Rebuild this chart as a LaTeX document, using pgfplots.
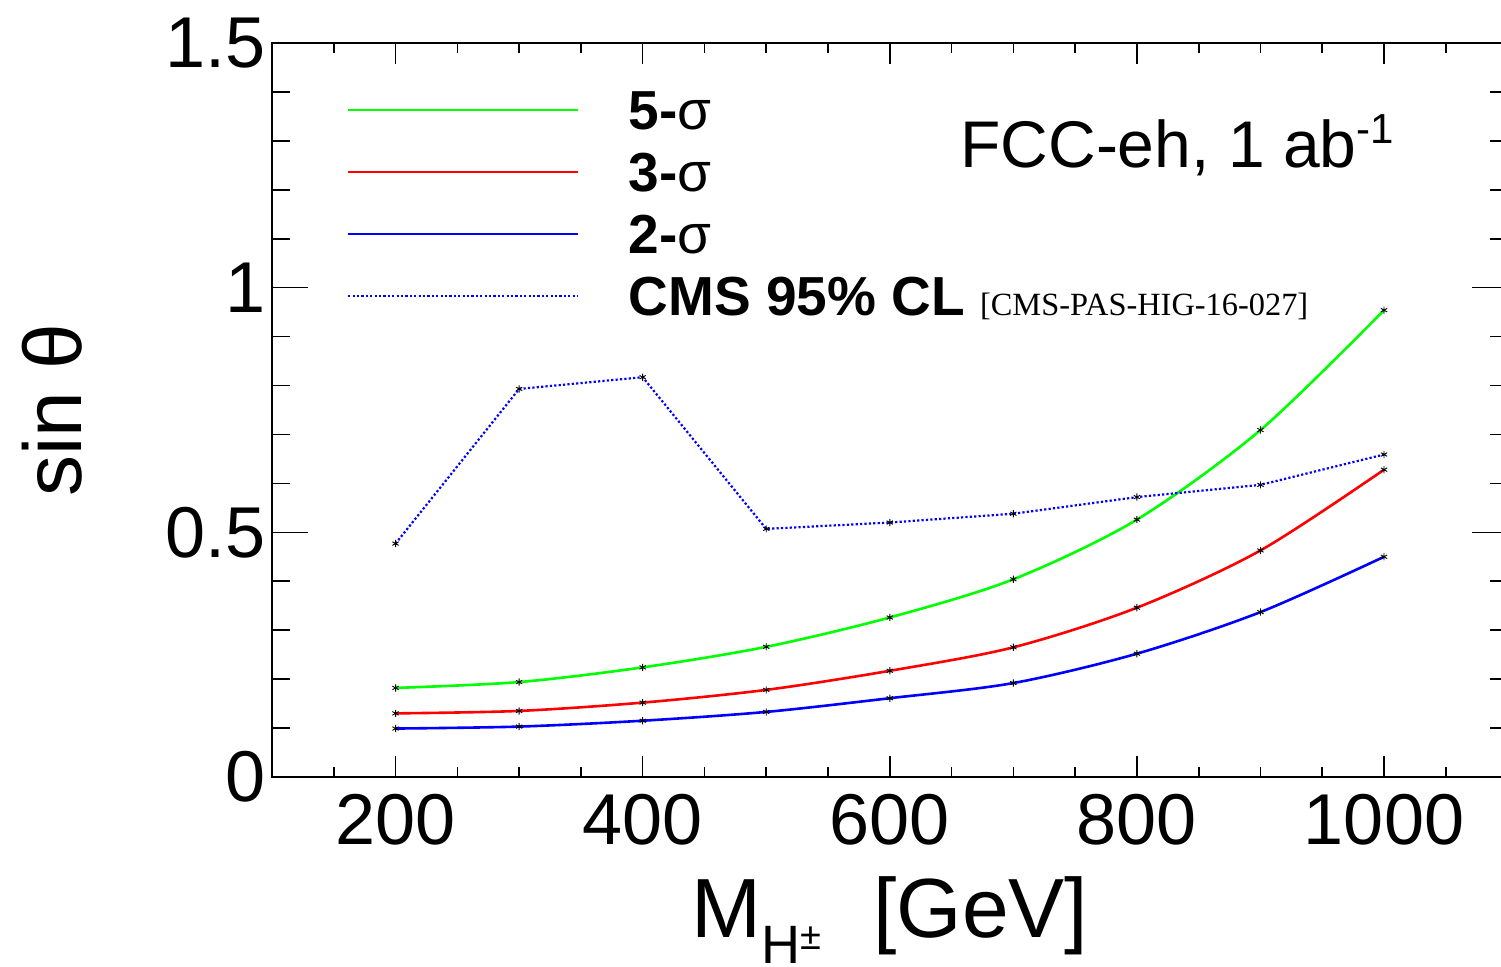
\documentclass[border=0pt]{standalone}
\usepackage{fontspec}
\setmainfont{Liberation Sans}
\newfontfamily\timesfont{Liberation Serif}
\usepackage{pgfplots}
\pgfplotsset{compat=1.18}
\definecolor{rgreen}{RGB}{0,255,0}
\definecolor{rred}{RGB}{255,0,0}
\definecolor{rblue}{RGB}{0,0,255}
\pgfplotsset{
  common/.style={
    width=617.8pt, height=367pt, scale only axis,
    xmin=100, xmax=1100, ymin=0, ymax=1.5,
    axis line style={line width=0.8pt, black},
    tick style={line width=0.8pt, black},
    /pgf/number format/assume math mode=true,
    /pgf/number format/1000 sep={},
    tick label style={font=\fontsize{36}{36}\selectfont},
  },
  starmark/.style={mark=asterisk, mark size=1.8pt, mark options={solid, draw=black, line width=0.45pt}},
}
\begin{document}
\begin{tikzpicture}
\begin{axis}[common,
  xtick={200,400,600,800,1000},
  minor xtick={150,200,...,1050},
  ytick=\empty,
  major tick length=10.5pt, minor tick length=5pt,
  xticklabel style={anchor=north, inner sep=0pt, yshift=-8.5pt},
  xlabel={M\raisebox{-13pt}{\fontsize{27}{27}\selectfont H\raisebox{7pt}{\fontsize{19}{19}\selectfont ±}}\hspace{26pt}[GeV]},
  every axis x label/.style={at={(axis description cs:0.5,-0.2193)}, anchor=base, font=\fontsize{42}{42}\selectfont},
  legend cell align=left,
  legend image code/.code={\draw[#1, mark=none] (0pt,0pt) -- (115pt,0pt);},
  legend style={at={(axis description cs:0.0607,0.936)}, anchor=north west,
    draw=none, fill=none, inner sep=0pt, outer sep=0pt,
    row sep=11pt, column sep=0pt,
    font=\fontsize{27.5}{27.5}\selectfont,
    nodes={inner sep=0pt, outer sep=0pt, text height=20pt, text depth=0pt},
    /tikz/every odd column/.append style={column sep=24.5pt}},
]
\coordinate (pA) at (rel axis cs:0,0);
\coordinate (pB) at (rel axis cs:1,1);

\addplot[rgreen, line width=1.3pt, smooth, starmark] coordinates {
 (200,0.182) (300,0.194) (400,0.224) (500,0.266) (600,0.326)
 (700,0.404) (800,0.526) (900,0.709) (1000,0.954)};
\addlegendentry{\textbf{5-}σ}

\addplot[rred, line width=1.3pt, smooth, starmark] coordinates {
 (200,0.130) (300,0.135) (400,0.152) (500,0.178) (600,0.217)
 (700,0.265) (800,0.346) (900,0.463) (1000,0.628)};
\addlegendentry{\textbf{3-}σ}

\addplot[rblue, line width=1.3pt, smooth, starmark] coordinates {
 (200,0.099) (300,0.103) (400,0.115) (500,0.133) (600,0.161)
 (700,0.192) (800,0.252) (900,0.337) (1000,0.450)};
\addlegendentry{\textbf{2-}σ}

\addplot[rblue, line width=1.1pt, dash pattern=on 1.1pt off 1.1pt, starmark] coordinates {
 (200,0.477) (300,0.793) (400,0.817) (500,0.507) (600,0.520)
 (700,0.538) (800,0.572) (900,0.597) (1000,0.659)};
\addlegendentry{\textbf{CMS 95\% CL} {\timesfont\fontsize{16.2}{16.5}\selectfont [CMS-PAS-HIG-16-027]}}

\node[anchor=base west, inner sep=0pt, font=\fontsize{33}{33}\selectfont]
  at (axis description cs:0.5568,0.8297) {FCC-eh, 1 ab\raisebox{12pt}{\fontsize{21}{21}\selectfont -1}};
\end{axis}

\begin{axis}[common,
  xtick=\empty,
  ytick={0,0.5,1,1.5},
  minor ytick={0.1,0.2,0.3,0.4,0.6,0.7,0.8,0.9,1.1,1.2,1.3,1.4},
  major tick length=18pt, minor tick length=9pt,
  yticklabel style={anchor=east, inner sep=0pt, xshift=-3pt},
  ylabel={sin θ},
  every axis y label/.style={at={(axis description cs:-0.178,0.5)}, rotate=90, anchor=center, font=\fontsize{41}{41}\selectfont},
]
\end{axis}

\pgfresetboundingbox
\path[use as bounding box] ([shift={(-136pt,-95pt)}]pA) rectangle ([shift={(-3.3pt,21.5pt)}]pB);
\end{tikzpicture}
\end{document}
